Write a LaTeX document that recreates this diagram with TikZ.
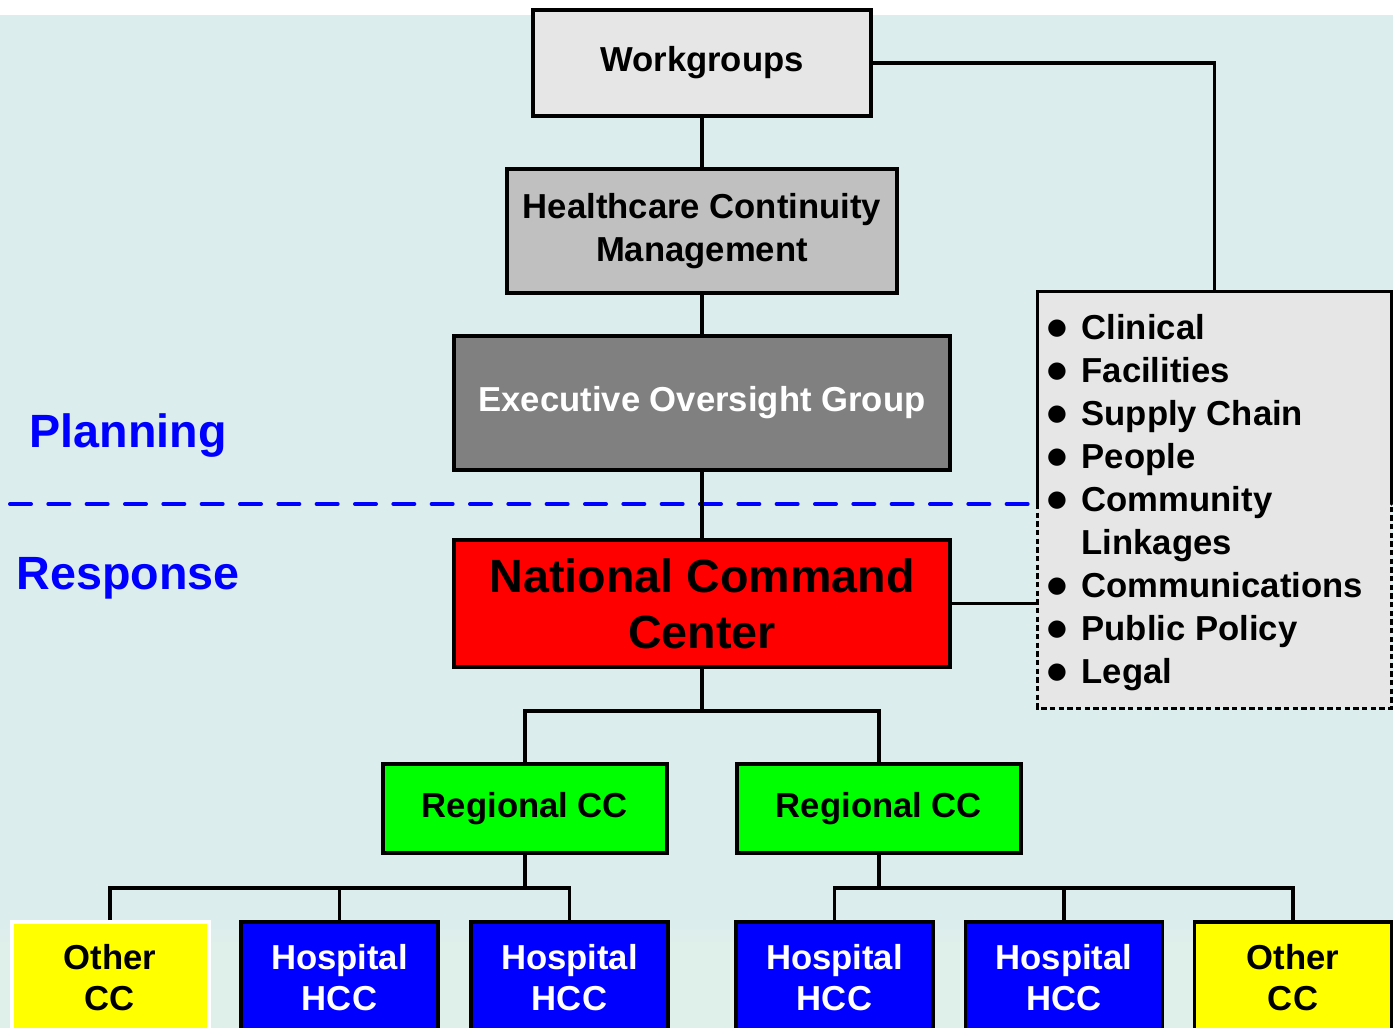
\documentclass[tikz,border=0pt]{standalone}
\usepackage{fontspec}
\setmainfont{Liberation Sans}
\newfontfamily\symfont{DejaVu Sans}
\usepackage{xcolor}
\definecolor{bgteal}{HTML}{DCEDED}
\definecolor{bgband}{HTML}{DFF0EA}
\definecolor{lgray}{HTML}{E6E6E6}
\definecolor{mgray}{HTML}{C0C0C0}
\definecolor{dgray}{HTML}{808080}
\definecolor{ccgreen}{HTML}{00FF00}
\definecolor{hccblue}{HTML}{0000FF}
\definecolor{ccyellow}{HTML}{FFFF00}
\definecolor{phaseblue}{HTML}{0000FF}
\newcommand\pw{0.75pt}
\newcommand\blt{\raisebox{3.5pt}{\symfont\fontsize{17}{17}\selectfont ●}}

\tikzset{
  box/.style={draw=black, line width=3.5*\pw, inner sep=0pt, align=center,
    font=\bfseries\fontsize{26}{32.25}\selectfont},
  regbox/.style={box, fill=ccgreen, minimum width=284*\pw, minimum height=89*\pw},
  hccbox/.style={box, fill=hccblue, text=white, minimum width=197*\pw, minimum height=112*\pw,
    font=\bfseries\fontsize{26}{30.75}\selectfont},
  othbox/.style={hccbox, fill=ccyellow, text=black},
  link/.style={line width=3.5*\pw},
  phase/.style={text=phaseblue, inner sep=0pt, font=\bfseries\fontsize{35}{42}\selectfont},
}

\begin{document}
\begin{tikzpicture}[x=0.75pt,y=-0.75pt]
\clip (0,0) rectangle (1393,1028);
\fill[white] (0,0) rectangle (1393,1028);
\fill[bgteal] (0,15) rectangle (1393,1028);
\shade[top color=bgteal, bottom color=bgband] (0,925) rectangle (1393,945);
\fill[bgband] (0,945) rectangle (1393,1028);

% planning side
\node[box, fill=lgray, minimum width=338*\pw, minimum height=106*\pw] (work) at (702,63) {Workgroups};
\node[box, fill=mgray, minimum width=390*\pw, minimum height=124*\pw] (hcm) at (702,231) {Healthcare Continuity\\Management};
\node[box, fill=dgray, text=white, minimum width=496*\pw, minimum height=134*\pw] (eog) at (702,403) {Executive Oversight Group};

% workgroup list
\node[fill=lgray, inner sep=0pt, minimum width=353*\pw, minimum height=416*\pw] (list) at (1214.5,500) {};
\draw[link, line cap=round] (list.west |- 0,504) -- (list.north west) -- (list.north east) -- (list.east |- 0,504);
\draw[link, dash pattern=on 4pt off 2.5pt] (list.west |- 0,504) -- (list.south west) -- (list.south east) -- (list.east |- 0,504);
\node[inner sep=0pt, font=\bfseries\fontsize{26}{32.25}\selectfont] (items) at (1205,503)
  {\begin{tabular}{@{}l@{\hspace{11pt}}l@{}}
   \blt & Clinical\\
   \blt & Facilities\\
   \blt & Supply Chain\\
   \blt & People\\
   \blt & Community\\
        & Linkages\\
   \blt & Communications\\
   \blt & Public Policy\\
   \blt & Legal
   \end{tabular}};

% planning / response split
\coordinate (split) at (10,504);
\draw[phaseblue, line width=4*\pw, line cap=round, dash pattern=on 15.75pt off 13pt] (split) -- (split -| list.west);
\node[phase] (plan) at (128,436) {Planning};
\node[phase] (resp) at (128,578) {Response};

% response side
\node[box, fill=red, minimum width=496*\pw, minimum height=127*\pw,
  font=\bfseries\fontsize{35}{42}\selectfont] (ncc) at (702,603.5) {National Command\\Center};
\node[regbox] (reg1) at (525,808.5) {Regional CC};
\node[regbox] (reg2) at (879,808.5) {Regional CC};

\node[othbox, draw=white, line width=4*\pw] (oth1) at (110,978) {Other\\CC};
\node[hccbox] (hos1) at (339.5,978) {Hospital\\HCC};
\node[hccbox] (hos2) at (569.5,978) {Hospital\\HCC};
\node[hccbox] (hos3) at (834.5,978) {Hospital\\HCC};
\node[hccbox] (hos4) at (1064,978) {Hospital\\HCC};
\node[othbox] (oth2) at (1293,978) {Other\\CC};

% connectors
\draw[link] (work.east) -| (list.north);
\draw[link] (work.south) -- (hcm.north);
\draw[link] (hcm.south) -- (eog.north);
\draw[link] (eog.south) -- (ncc.north);
\draw[link] (ncc.east) -- (ncc.east -| list.west);

\coordinate (bus0) at (702,711);
\coordinate (bus1) at (525,888);
\coordinate (bus2) at (879,888);
\draw[link] (ncc.south) -- (bus0);
\draw[link] (reg1.north) |- (bus0) -| (reg2.north);
\draw[link] (reg1.south) -- (bus1);
\draw[link] (oth1.north) |- (bus1) -| (hos2.north);
\draw[link] (hos1.north) -- (hos1.north |- bus1);
\draw[link] (reg2.south) -- (bus2);
\draw[link] (hos3.north) |- (bus2) -| (oth2.north);
\draw[link] (hos4.north) -- (hos4.north |- bus2);
\end{tikzpicture}
\end{document}
